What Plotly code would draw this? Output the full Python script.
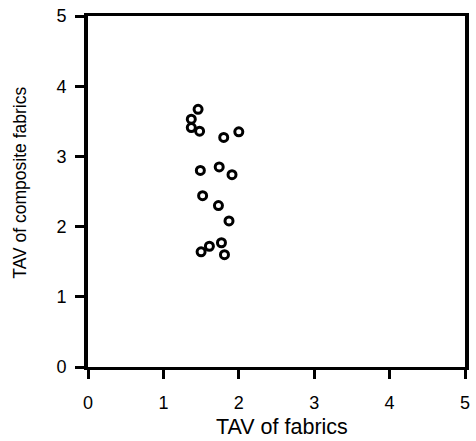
import plotly.graph_objects as go

tav_fabrics = [1.46, 1.37, 1.37, 1.48, 1.80, 2.00, 1.49, 1.74, 1.91, 1.52, 1.73, 1.87, 1.77, 1.61, 1.50, 1.81]
tav_composite = [3.67, 3.53, 3.41, 3.36, 3.27, 3.35, 2.80, 2.85, 2.74, 2.44, 2.30, 2.08, 1.77, 1.72, 1.64, 1.60]
tick_vals = [0, 1, 2, 3, 4, 5]
x_title = "TAV of fabrics"
y_title = "TAV of composite fabrics"

FONT = "Liberation Sans, Arial, sans-serif"

fig = go.Figure()
fig.add_trace(go.Scatter(
    x=tav_fabrics, y=tav_composite, mode="markers",
    marker=dict(symbol="circle-open", size=8, color="black",
                line=dict(width=3, color="black")),
    showlegend=False, cliponaxis=False,
))

axis_common = dict(
    range=[0, 5], tickvals=tick_vals, ticktext=[str(v) for v in tick_vals],
    showgrid=False, zeroline=False, showline=True, linecolor="black",
    mirror=True, ticks="outside", ticklen=9, tickwidth=3,
    tickcolor="black", tickfont=dict(family=FONT, size=18, color="black"),
)

fig.update_layout(
    width=476, height=441,
    margin=dict(l=88, r=6, t=15, b=74),
    paper_bgcolor="white", plot_bgcolor="white",
    font=dict(family=FONT, color="black"),
    xaxis=dict(**axis_common, linewidth=3, ticklabelstandoff=8),
    yaxis=dict(**axis_common, linewidth=4, ticklabelstandoff=5),
    annotations=[
        dict(text=x_title, xref="paper", yref="paper", x=0.515, y=0,
             yshift=-60, xanchor="center", yanchor="middle", showarrow=False,
             font=dict(family=FONT, size=21.5, color="black")),
        dict(text=y_title, xref="paper", yref="paper", x=0, y=0.525,
             xshift=-68, xanchor="center", yanchor="middle", showarrow=False,
             textangle=-90, font=dict(family=FONT, size=17.5, color="black")),
    ],
)

fig.write_html("out.html")
